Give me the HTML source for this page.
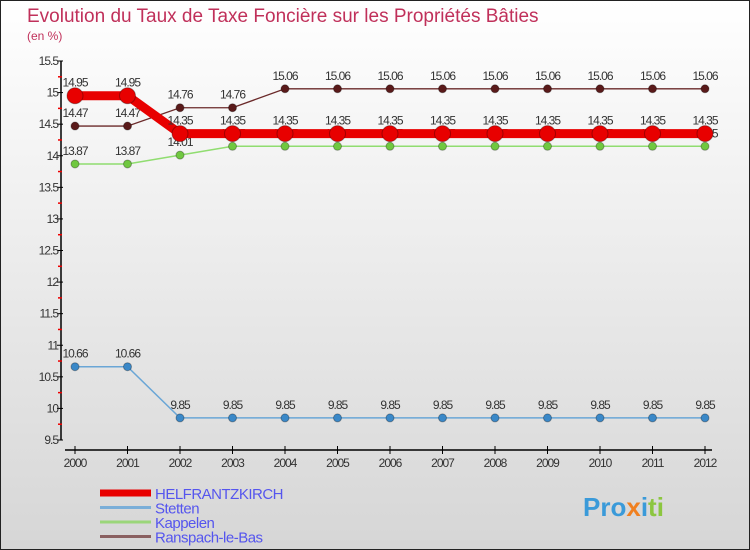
<!DOCTYPE html>
<html><head><meta charset="utf-8"><style>
body{margin:0;width:750px;height:550px;overflow:hidden;font-family:"Liberation Sans",sans-serif}
#wrap{position:absolute;left:0;top:0;width:748px;height:548px;border:1px solid #222;background:linear-gradient(#fff,#d6d6d6)}
</style></head><body>
<div id="wrap">
<svg id="c" width="750" height="550" style="position:absolute;left:-1px;top:-1px">
<text x="27" y="22" font-size="19" fill="#c0305a">Evolution du Taux de Taxe Foncière sur les Propriétés Bâties</text>
<text x="27" y="40" font-size="12" fill="#c0305a">(en %)</text>
<g id="axes"></g><g id="series"></g><g id="legend"></g>
<text x="583" y="516" font-size="26" font-weight="bold" fill="#3a9ad9">Pro<tspan fill="#f08020">x</tspan><tspan fill="#3a9ad9">i</tspan><tspan fill="#8cc63f">ti</tspan></text>
</svg></div>
<script>
const years=[2000,2001,2002,2003,2004,2005,2006,2007,2008,2009,2010,2011,2012];
const yTicks=[9.5,10,10.5,11,11.5,12,12.5,13,13.5,14,14.5,15,15.5];
const helfrantzkirch=[14.95,14.95,14.35,14.35,14.35,14.35,14.35,14.35,14.35,14.35,14.35,14.35,14.35];
const stetten=[10.66,10.66,9.85,9.85,9.85,9.85,9.85,9.85,9.85,9.85,9.85,9.85,9.85];
const kappelen=[13.87,13.87,14.01,14.15,14.15,14.15,14.15,14.15,14.15,14.15,14.15,14.15,14.15];
const ranspach=[14.47,14.47,14.76,14.76,15.06,15.06,15.06,15.06,15.06,15.06,15.06,15.06,15.06];
const names=["HELFRANTZKIRCH","Stetten","Kappelen","Ranspach-le-Bas"];
const NS="http://www.w3.org/2000/svg";
const X=i=>75+i*52.5, Y=v=>61+(15.5-v)*(379/6);
function mk(t,a,p){const e=document.createElementNS(NS,t);for(const k in a)e.setAttribute(k,a[k]);p.appendChild(e);return e;}
const ax=document.getElementById('axes');
let l=mk('line',{x1:61,y1:61,x2:61,y2:440,stroke:'#000','stroke-width':1.5},ax);

l=mk('line',{x1:65,y1:450,x2:712,y2:450,stroke:'#000','stroke-width':1.5},ax);

yTicks.forEach(v=>{mk('line',{x1:57,y1:Y(v),x2:63,y2:Y(v),stroke:'#000'},ax);
 if(v<15.5)mk('line',{x1:58,y1:Y(v+0.25),x2:62,y2:Y(v+0.25),stroke:'#e00','stroke-width':1.5},ax);
 const t=mk('text',{x:58,y:Y(v)+4,'font-size':12,'text-anchor':'end',fill:'#333','letter-spacing':'-1'},ax);t.textContent=v;
 });
years.forEach((y,i)=>{mk('line',{x1:X(i),y1:446,x2:X(i),y2:454,stroke:'#000'},ax);
 const t=mk('text',{x:X(i),y:467,'font-size':12,'text-anchor':'middle',fill:'#333','letter-spacing':'-1'},ax);t.textContent=y;
 });
const sg=document.getElementById('series');
const defs=[[ranspach,'#6b2a2a','#5a1a1a',1.3,4,'ranspach'],[kappelen,'#90dd70','#70c840',1.5,4,'kappelen'],[stetten,'#6aa6d6','#3a88c8',1.5,4,'stetten'],[helfrantzkirch,'#e80000','#e80000',9,8,'helfrantzkirch']];
defs.forEach(([d,c,f,w,r,n])=>{
 const p=mk('polyline',{points:d.map((v,i)=>X(i)+','+Y(v)).join(' '),fill:'none',stroke:c,'stroke-width':w},sg);
 
 d.forEach((v,i)=>{const ci=mk('circle',{cx:X(i),cy:Y(v),r:r,fill:f,stroke:'rgba(0,0,0,0.3)'},sg);
  
  const t=mk('text',{x:X(i),y:Y(v)-9,'font-size':12,'text-anchor':'middle',fill:'#333','letter-spacing':'-1'},sg);t.textContent=v;
  });
});
const lg=document.getElementById('legend');
const lc=['#e80000','#7aaed8','#9bd67a','#8a6060'],lw=[7,3,3,3];
names.forEach((n,i)=>{const y=493+i*14.5;
 const ln=mk('line',{x1:100,y1:y,x2:151,y2:y,stroke:lc[i],'stroke-width':lw[i]},lg);
 
 const t=mk('text',{x:155,y:y+6,'font-size':15,fill:'#5555ee','letter-spacing':'-0.5'},lg);t.textContent=n;
 });
</script>
</body></html>
